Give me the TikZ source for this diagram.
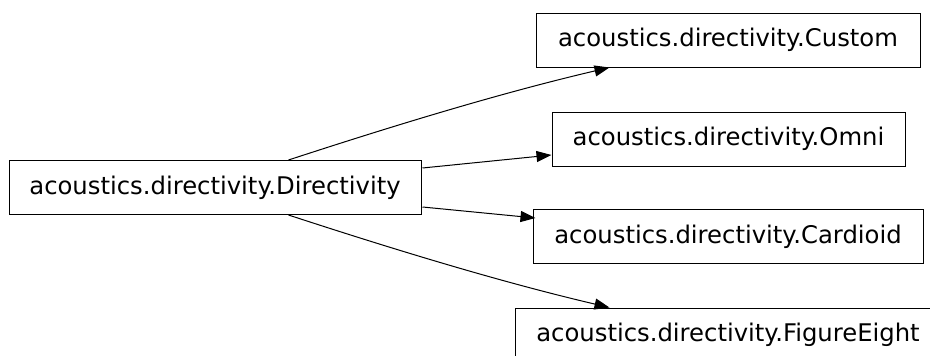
\documentclass[tikz,border=0pt]{standalone}
\usepackage{fontspec}
\setmainfont{DejaVu Sans}
\usetikzlibrary{arrows.meta,calc}
\begin{document}
\begin{tikzpicture}[x=1pt,y=-1pt,
  box/.style={draw, line width=1pt, inner sep=0pt, minimum height=54pt,
    font=\fontsize{24.3}{28}\selectfont},
  edge/.style={line width=1pt, -{Triangle[length=15pt,width=11pt]}}]
\useasboundingbox (0,0) rectangle (930,356);
\clip (0,0) rectangle (930,356);
\node[box, minimum width=412pt] (dir) at (215,187.5) {acoustics.directivity.Directivity};
\node[box, minimum width=384pt] (cus) at (728,40) {acoustics.directivity.Custom};
\node[box, minimum width=353pt] (omn) at (728.5,139) {acoustics.directivity.Omni};
\node[box, minimum width=390pt] (car) at (728,236.5) {acoustics.directivity.Cardioid};
\node[box, minimum width=426pt] (fig) at (728,335) {acoustics.directivity.FigureEight};
\draw[edge] ($(dir.north west)+(280,0)$) .. controls ($(dir.north west)+(387,-35)$) and ($(cus.south west)+(-33,25)$) .. ($(cus.south west)+(74,0)$);
\draw[edge] ($(dir.north east)+(1,8)$) -- ($(omn.west)+(0,16)$);
\draw[edge] ($(dir.east)+(1,19.5)$) -- ($(car.west)+(3,-18.5)$);
\draw[edge] ($(dir.south west)+(280,0)$) .. controls ($(dir.south west)+(387,35)$) and ($(fig.north west)+(-12,-25)$) .. ($(fig.north west)+(95,0)$);
\end{tikzpicture}
\end{document}
